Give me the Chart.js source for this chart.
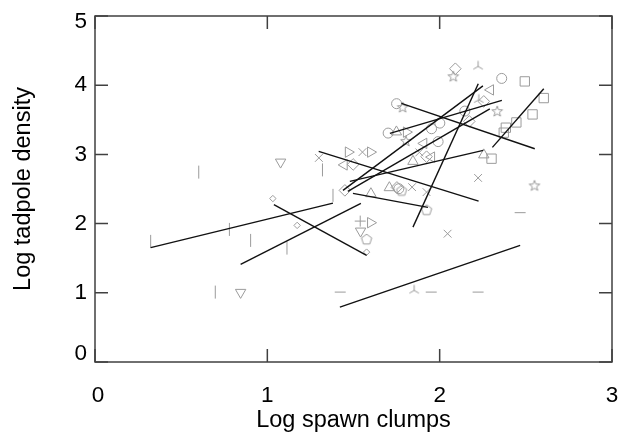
<!DOCTYPE html>
<html>
<head>
<meta charset="utf-8">
<script src="https://cdn.jsdelivr.net/npm/chart.js@4.4.1/dist/chart.umd.min.js"></script>
<style>
html,body{margin:0;padding:0;background:#fff;}
#wrap{width:622px;height:432px;}
</style>
</head>
<body>
<div id="wrap"><canvas id="c" width="622" height="432"></canvas></div>
<script>
// ---- data ----
const xTickLabels = ['0','1','2','3'];
const yTickLabels = ['0','1','2','3','4','5'];

const vbarX = [0.323,0.602,1.320,0.780,0.903,0.698,1.114,1.381];
const vbarY = [1.743,2.744,2.776,1.916,1.757,1.010,1.646,2.408];
const dashX = [1.423,1.951,2.223,2.467];
const dashY = [1.010,1.010,1.010,2.158];
const triX = [1.852,2.223,2.227];
const triY = [1.035,4.272,3.790];
const crossX = [1.299,1.552,2.223,2.046,1.840,1.924,1.882];
const crossY = [2.949,3.033,2.660,1.854,2.527,2.455,3.029];
const downX = [1.077,0.845,1.541];
const downY = [2.889,1.006,1.892];
const rightX = [1.470,1.599,1.807,1.599];
const rightY = [3.033,3.033,3.322,2.013];
const leftX = [1.446,1.908,1.953,2.295];
const leftY = [2.848,3.159,2.961,3.932];
const upX = [1.749,1.845,2.256,1.601,1.708];
const upY = [3.325,2.899,2.993,2.432,2.519];
const diamondX = [2.091,2.256,2.172,1.924,1.498,1.450,1.752];
const diamondY = [4.238,3.766,3.477,2.967,2.855,2.480,2.523];
const smallDiaX = [1.032,1.173,1.576];
const smallDiaY = [2.362,1.974,1.588];
const circleX = [1.750,1.701,2.146,2.001,1.953,1.991,2.360,1.763];
const circleY = [3.733,3.308,3.626,3.452,3.371,3.185,4.098,2.504];
const squareX = [2.494,2.604,2.539,2.445,2.384,2.372,2.301];
const squareY = [4.055,3.814,3.578,3.462,3.386,3.314,2.938];
const starX = [1.785,1.804,2.079,2.334,2.550];
const starY = [3.684,3.195,4.130,3.626,2.552];
const pentX = [1.779,1.924,1.576];
const pentY = [2.480,2.201,1.776];
const plusX = [1.539];
const plusY = [2.036];

// fitted line segments (start / end)
const segX1 = [0.323,0.845,1.038,1.421,1.298,1.845,2.306,1.778,1.711,1.439,1.467,1.479,1.497];
const segY1 = [1.652,1.410,2.273,0.793,3.043,1.949,3.101,3.737,3.303,2.480,2.465,2.610,2.436];
const segX2 = [1.381,1.543,1.576,2.467,2.226,2.224,2.604,2.552,2.361,2.251,2.291,2.253,1.932];
const segY2 = [2.296,2.292,1.540,1.685,2.325,4.022,3.949,3.082,3.780,3.990,3.658,3.058,2.234];

// ---- styles ----
const GRAY = '#9b9b9b';
const FONT = "'Liberation Sans', Arial, Helvetica, sans-serif";
const TICK_SIZE = 22.5;

function glyph(size, fn){
  const c = document.createElement('canvas');
  c.width = size; c.height = size;
  const g = c.getContext('2d');
  g.strokeStyle = GRAY; g.lineWidth = 1;
  fn(g, size/2);
  return c;
}
const starImg = glyph(14, (g,m)=>{
  const R = 5.6, r = 2.3;
  g.beginPath();
  for(let i=0;i<10;i++){
    const a = -Math.PI/2 + i*Math.PI/5;
    const rr = i%2===0 ? R : r;
    const px = m + rr*Math.cos(a), py = m + 0.5 + rr*Math.sin(a);
    if(i===0) g.moveTo(px,py); else g.lineTo(px,py);
  }
  g.closePath(); g.stroke();
});
const pentImg = glyph(14, (g,m)=>{
  const R = 5.4;
  g.beginPath();
  for(let i=0;i<5;i++){
    const a = -Math.PI/2 + i*2*Math.PI/5;
    const px = m + R*Math.cos(a), py = m + 0.5 + R*Math.sin(a);
    if(i===0) g.moveTo(px,py); else g.lineTo(px,py);
  }
  g.closePath(); g.stroke();
});
const triImg = glyph(14, (g,m)=>{
  const R = 5.5;
  g.beginPath();
  for(let i=0;i<3;i++){
    const a = -Math.PI/2 + i*2*Math.PI/3;
    g.moveTo(m, m);
    g.lineTo(m + R*Math.cos(a), m + R*Math.sin(a));
  }
  g.stroke();
});

function pts(xs, ys){ return xs.map((v,i)=>({x:v, y:ys[i]})); }
function markers(label, xs, ys, style, radius, rotation){
  return {
    type:'scatter', label, data: pts(xs, ys), showLine:false,
    pointStyle: style, pointRadius: radius, pointRotation: rotation||0,
    pointBorderColor: GRAY, pointBackgroundColor: 'rgba(0,0,0,0)',
    pointBorderWidth: 1, pointHoverRadius: radius, order: 2
  };
}

const datasets = [];
for(let i=0;i<segX1.length;i++){
  datasets.push({
    type:'line', label:'fit '+(i+1),
    data:[{x:segX1[i], y:segY1[i]}, {x:segX2[i], y:segY2[i]}],
    borderColor:'#111', borderWidth:1.4, pointRadius:0, fill:false, order:1
  });
}
datasets.push(markers('vbar', vbarX, vbarY, 'line', 6.5, 90));
datasets.push(markers('dash', dashX, dashY, 'line', 5.5, 0));
datasets.push(markers('tri', triX, triY, triImg, 5));
datasets.push(markers('cross', crossX, crossY, 'crossRot', 5.5));
datasets.push(markers('down', downX, downY, 'triangle', 6, 180));
datasets.push(markers('right', rightX, rightY, 'triangle', 6, 90));
datasets.push(markers('left', leftX, leftY, 'triangle', 6, 270));
datasets.push(markers('up', upX, upY, 'triangle', 6, 0));
datasets.push(markers('diamond', diamondX, diamondY, 'rectRot', 5.8));
datasets.push(markers('smalldiamond', smallDiaX, smallDiaY, 'rectRot', 3.2));
datasets.push(markers('circle', circleX, circleY, 'circle', 5));
datasets.push(markers('square', squareX, squareY, 'rect', 6.6));
datasets.push(markers('star', starX, starY, starImg, 5));
datasets.push(markers('pentagon', pentX, pentY, pentImg, 5));
datasets.push(markers('plus', plusX, plusY, 'cross', 5.5));

const frame = {
  id:'frame',
  afterDraw(chart){
    const {ctx, chartArea:{left,right,top,bottom}, scales:{x,y}} = chart;
    ctx.save();
    ctx.strokeStyle = '#404040';
    ctx.lineWidth = 1.5;
    ctx.strokeRect(left, top, right-left, bottom-top);
    const L = 13;
    ctx.beginPath();
    x.ticks.forEach(t=>{
      const p = x.getPixelForValue(t.value);
      ctx.moveTo(p, bottom); ctx.lineTo(p, bottom-L);
      ctx.moveTo(p, top); ctx.lineTo(p, top+L);
    });
    y.ticks.forEach(t=>{
      const p = y.getPixelForValue(t.value);
      ctx.moveTo(left, p); ctx.lineTo(left+L, p);
      ctx.moveTo(right, p); ctx.lineTo(right-L, p);
    });
    ctx.stroke();
    ctx.restore();
  }
};

// end labels of the y axis sit inside the axis range (as in the reference)
function yLabel(v){
  const s = yTickLabels[v];
  if(s === undefined) return '';
  if(v === 5) return ['', s];
  if(v === 0) return [s, ''];
  return s;
}
function yFont(ctx){
  const v = ctx.tick ? ctx.tick.value : null;
  if(v === 5) return {family:FONT, size:TICK_SIZE, lineHeight:'12px'};
  if(v === 0) return {family:FONT, size:TICK_SIZE, lineHeight:'16px'};
  return {family:FONT, size:TICK_SIZE};
}

new Chart(document.getElementById('c'), {
  type:'scatter',
  data:{datasets},
  options:{
    responsive:false, animation:false, devicePixelRatio:1,
    layout:{padding:{top:16, right:10, left:0, bottom:0}},
    plugins:{legend:{display:false}, tooltip:{enabled:false}},
    scales:{
      x:{
        type:'linear', min:0, max:3,
        ticks:{stepSize:1, color:'#000', padding:0, font:{family:FONT, size:TICK_SIZE},
               callback:(v)=> xTickLabels[v] === undefined ? '' : (v === 0 ? ' ' + xTickLabels[v] : xTickLabels[v])},
        grid:{display:false, drawTicks:true, tickLength:20}, border:{display:false},
        title:{display:true, text:'Log spawn clumps', color:'#000', font:{family:FONT, size:23.5, lineHeight:1.0}, padding:{top:0,bottom:0}},
        afterFit:(s)=>{ s.height = 70; }
      },
      y:{
        type:'linear', min:0, max:5,
        ticks:{stepSize:1, color:'#000', padding:0, font:yFont, callback:yLabel},
        grid:{display:false, drawTicks:true, tickLength:8}, border:{display:false},
        title:{display:true, text:'Log tadpole density', color:'#000', font:{family:FONT, size:23.5}, padding:{top:9,bottom:0}},
        afterFit:(s)=>{ s.width = 95; }
      }
    }
  },
  plugins:[frame]
});
</script>
</body>
</html>
